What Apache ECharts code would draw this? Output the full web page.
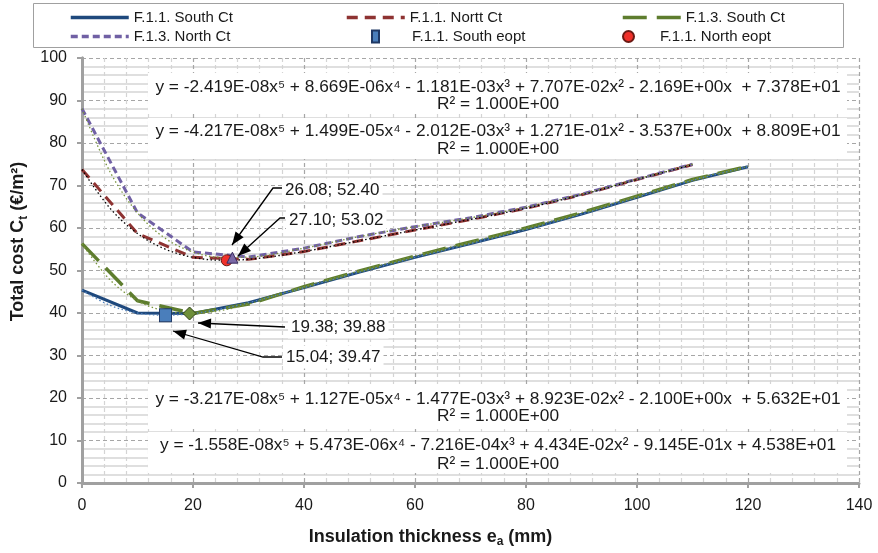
<!DOCTYPE html>
<html>
<head>
<meta charset="utf-8">
<script src="https://cdn.jsdelivr.net/npm/echarts@6/dist/echarts.min.js"></script>
<style>
html,body{margin:0;padding:0;background:#fff;}
#chart{width:878px;height:553px;}
</style>
</head>
<body>
<div id="chart"></div>
<script>
// ---- data ----
const xSouth = [0, 10, 20, 30, 40, 50, 60, 70, 80, 90, 100, 110, 120];
const southF11 = [45.38, 40.00, 39.88, 42.42, 45.98, 49.64, 53.08, 56.35, 59.66, 63.26, 67.23, 71.22, 74.42];
const southF13 = [56.32, 42.88, 39.90, 42.10, 46.20, 49.90, 53.40, 56.70, 60.00, 63.60, 67.50, 71.40, 74.50];
const xNorth = [0, 10, 20, 30, 40, 50, 60, 70, 80, 90, 100, 110];
const northF11 = [73.78, 58.70, 53.09, 52.62, 54.46, 57.00, 59.53, 62.00, 64.65, 67.82, 71.40, 74.90];
const northF13 = [88.09, 63.56, 54.36, 53.16, 55.26, 58.00, 60.32, 62.40, 64.90, 67.95, 71.50, 75.00];

// trendline (polynomial) readings: finer near the left edge
const xTrendS = [0, 5, 10, 15, 20, 25, 30, 40, 50, 60, 70, 80, 90, 100, 110, 120];
const trendSouthF11 = [45.38, 41.83, 40.00, 39.47, 39.88, 40.94, 42.42, 45.98, 49.64, 53.08, 56.35, 59.66, 63.26, 67.23, 71.22, 74.42];
const trendSouthF13 = [56.32, 47.87, 42.88, 40.46, 39.90, 40.60, 42.10, 46.20, 49.90, 53.40, 56.70, 60.00, 63.60, 67.50, 71.40, 74.50];
const xTrendN = [0, 5, 10, 15, 20, 25, 30, 40, 50, 60, 70, 80, 90, 100, 110];
const trendNorthF11 = [73.78, 64.72, 58.70, 55.02, 53.09, 52.42, 52.62, 54.46, 57.00, 59.53, 62.00, 64.65, 67.82, 71.40, 74.90];
const trendNorthF13 = [88.09, 73.34, 63.56, 57.57, 54.36, 53.11, 53.16, 55.26, 58.00, 60.32, 62.40, 64.90, 67.95, 71.50, 75.00];

// optimum points
const optSouthF11 = [15.04, 39.47];
const optNorthF11 = [26.08, 52.40];
const optNorthF13 = [27.10, 53.02];
const optSouthF13 = [19.38, 39.88];

const xTicks = { min: 0, max: 140, interval: 20 };
const yTicks = { min: 0, max: 100, interval: 10 };

const equations = [
  'y = -2.419E-08x\u2075 + 8.669E-06x\u2074 - 1.181E-03x\u00b3 + 7.707E-02x\u00b2 - 2.169E+00x  + 7.378E+01',
  'y = -4.217E-08x\u2075 + 1.499E-05x\u2074 - 2.012E-03x\u00b3 + 1.271E-01x\u00b2 - 3.537E+00x  + 8.809E+01',
  'y = -3.217E-08x\u2075 + 1.127E-05x\u2074 - 1.477E-03x\u00b3 + 8.923E-02x\u00b2 - 2.100E+00x  + 5.632E+01',
  'y = -1.558E-08x\u2075 + 5.473E-06x\u2074 - 7.216E-04x\u00b3 + 4.434E-02x\u00b2 - 9.145E-01x + 4.538E+01'
];
const r2Text = 'R\u00b2 = 1.000E+00';
const optLabels = ['26.08; 52.40', '27.10; 53.02', '19.38; 39.88', '15.04; 39.47'];

// ---- styling ----
const REG = '"Liberation Sans", Arial, sans-serif';
const TXT = '#1a1a1a';
const AX = '#a0a0a0';

const pairs = (xs, ys) => xs.map((x, i) => [x, ys[i]]);

const C_BLUE = '#1F497D', C_RED = '#8E3332', C_GREEN = '#5E7D2E', C_PURPLE = '#7060A4';

const chart = echarts.init(document.getElementById('chart'), null, { renderer: 'canvas' });

function lineSeries(name, xs, ys, color, width, dash, z) {
  return {
    name, type: 'line', data: pairs(xs, ys), showSymbol: false, symbol: 'none',
    lineStyle: { color, width, type: dash }, itemStyle: { color }, z, animation: false
  };
}
function trendSeries(name, xs, ys, color) {
  return {
    name, type: 'line', data: pairs(xs, ys), showSymbol: false, symbol: 'none', smooth: 0.35,
    lineStyle: { color, width: 1.3, type: [1.5, 2.5] }, z: 4, animation: false, silent: true
  };
}
function scatterSeries(name, pt, symbol, size, fill, border) {
  return {
    name, type: 'scatter', data: [pt], symbol, symbolSize: size,
    itemStyle: { color: fill, borderColor: border, borderWidth: 1, opacity: 1 }, z: 6, animation: false
  };
}

const legendText = { fontFamily: REG, fontSize: 15, color: TXT };
function legendAt(name, left, top, opts) {
  return Object.assign({
    data: [name], left, top, orient: 'horizontal', itemWidth: 58, itemHeight: 14, selectedMode: false,
    itemStyle: { opacity: 0 }, lineStyle: { width: 3.5 }, textStyle: legendText, padding: 0
  }, opts || {});
}

const option = {
  backgroundColor: '#fff',
  animation: false,
  grid: { left: 82, right: 19, top: 58, bottom: 65, containLabel: false },
  legend: [
    legendAt('F.1.1. South Ct', 69, 10),
    legendAt('F.1.1. Nortt Ct', 345, 10),
    legendAt('F.1.3. South Ct', 621, 10),
    legendAt('F.1.3. North Ct', 69, 29),
    legendAt('F.1.1. South eopt', 371, 29, { itemWidth: 7, itemHeight: 12, icon: 'rect', itemStyle: {},
      textStyle: Object.assign({}, legendText, { padding: [0, 0, 0, 28] }) }),
    legendAt('F.1.1. North eopt', 622, 29, { itemWidth: 11, itemHeight: 11, icon: 'circle', itemStyle: {},
      textStyle: Object.assign({}, legendText, { padding: [0, 0, 0, 21] }) })
  ],
  xAxis: [{
    type: 'value', min: xTicks.min, max: xTicks.max, interval: xTicks.interval,
    name: '{b|Insulation thickness e}{s|a}{b| (mm)}', nameLocation: 'middle', nameGap: 43,
    nameTextStyle: { padding: [0, 80, 0, 0], rich: {
      b: { fontFamily: REG, fontSize: 18, fontWeight: 'bold', color: TXT, lineHeight: 22 },
      s: { fontFamily: REG, fontSize: 12, fontWeight: 'bold', color: TXT, verticalAlign: 'bottom' } } },
    axisLine: { show: true, onZero: false, lineStyle: { color: AX, width: 3 } },
    axisTick: { show: true, length: 5, lineStyle: { color: AX, width: 2 } },
    axisLabel: { fontFamily: REG, fontSize: 16, color: TXT, margin: 15 },
    splitLine: { show: true, lineStyle: { color: '#a6a6a6', width: 1.2, type: [4, 3] } },
    minorTick: { show: false, splitNumber: 5 },
    minorSplitLine: { show: true, lineStyle: { color: '#d4d4d4', width: 1.2, type: [4, 3] } }
  }],
  yAxis: [{
    type: 'value', min: yTicks.min, max: yTicks.max, interval: yTicks.interval,
    name: '{b|Total cost C}{s|t}{b| (\u20ac/m\u00b2)}', nameLocation: 'middle', nameGap: 52, nameRotate: 90,
    nameTextStyle: { padding: [0, 0, 0, 58], rich: {
      b: { fontFamily: REG, fontSize: 18, fontWeight: 'bold', color: TXT, lineHeight: 22 },
      s: { fontFamily: REG, fontSize: 12, fontWeight: 'bold', color: TXT, verticalAlign: 'bottom' } } },
    axisLine: { show: true, onZero: false, lineStyle: { color: AX, width: 3 } },
    axisTick: { show: true, length: 5, lineStyle: { color: AX, width: 2 } },
    axisLabel: { fontFamily: REG, fontSize: 16, color: TXT, margin: 15 },
    splitLine: { show: true, lineStyle: { color: '#a6a6a6', width: 1.2, type: [4, 3] } },
    minorTick: { show: false, splitNumber: 5 },
    minorSplitLine: { show: true, lineStyle: { color: '#d4d4d4', width: 1.5, type: 'solid' } }
  }, {
    type: 'value', position: 'right', min: yTicks.min, max: yTicks.max, interval: yTicks.interval,
    axisLine: { show: true, lineStyle: { color: AX, width: 3 } },
    axisTick: { show: false }, axisLabel: { show: false }, splitLine: { show: false }
  }],
  series: [
    lineSeries('F.1.1. South Ct', xSouth, southF11, C_BLUE, 3, 'solid', 3),
    lineSeries('F.1.1. Nortt Ct', xNorth, northF11, C_RED, 3, [11, 7], 3),
    lineSeries('F.1.3. South Ct', xSouth, southF13, C_GREEN, 3.5, [24, 10], 3),
    lineSeries('F.1.3. North Ct', xNorth, northF13, C_PURPLE, 3, [7, 4], 3),
    trendSeries('trend F.1.1. South', xTrendS, trendSouthF11, '#4F81BD'),
    trendSeries('trend F.1.1. North', xTrendN, trendNorthF11, '#000000'),
    trendSeries('trend F.1.3. South', xTrendS, trendSouthF13, '#77933C'),
    trendSeries('trend F.1.3. North', xTrendN, trendNorthF13, '#77933C'),
    scatterSeries('F.1.1. South eopt', optSouthF11, 'rect', [12, 13], '#4A7EBB', '#1F3864'),
    scatterSeries('F.1.1. North eopt', optNorthF11, 'circle', 11, '#F0302A', '#6B1A14'),
    scatterSeries('F.1.3. North eopt', optNorthF13, 'triangle', 11, '#7A68A6', '#3A2D5E'),
    scatterSeries('F.1.3. South eopt', optSouthF13, 'diamond', 13, '#6E8F3A', '#2F4216')
  ]
};
chart.setOption(option);

// ---- annotations (layout only) ----
const g = [];
g.push({ type: 'rect', z: -10, shape: { x: 33.5, y: 3.5, width: 810, height: 44 },
  style: { fill: '#fff', stroke: '#a0a0a0', lineWidth: 1 } });

const eqBoxes = [{ y: 73, l1: 87, l2: 104 }, { y: 118, l1: 131, l2: 149 },
                 { y: 386, l1: 399, l2: 416 }, { y: 432, l1: 445, l2: 464 }];
eqBoxes.forEach((b, i) => {
  g.push({ type: 'rect', z: 1, shape: { x: 148, y: b.y, width: 699, height: 41 }, style: { fill: '#fff' } });
  g.push({ type: 'text', z: 2, x: 498, y: b.l1, style: { text: equations[i], fill: TXT, font: '17.3px ' + REG, textAlign: 'center', textVerticalAlign: 'middle' } });
  g.push({ type: 'text', z: 2, x: 498, y: b.l2, style: { text: r2Text, fill: TXT, font: '17.3px ' + REG, textAlign: 'center', textVerticalAlign: 'middle' } });
});

const labelPos = [[282, 190], [286, 220], [288, 327], [283, 357]];
labelPos.forEach((p, i) => {
  g.push({ type: 'text', z: 2, x: p[0], y: p[1], style: { text: optLabels[i], fill: TXT, font: '17px ' + REG,
    textAlign: 'left', textVerticalAlign: 'middle', backgroundColor: '#fff', padding: [3, 3, 3, 3] } });
});

function arrow(pts) {
  g.push({ type: 'polyline', z: 7, shape: { points: pts },
    style: { stroke: '#000', lineWidth: 1.3, fill: null } });
  const a = pts[pts.length - 2], t = pts[pts.length - 1];
  const dx = t[0] - a[0], dy = t[1] - a[1], L = Math.hypot(dx, dy);
  const ux = dx / L, uy = dy / L, len = 13, w = 5;
  const bx = t[0] - ux * len, by = t[1] - uy * len;
  g.push({ type: 'polygon', z: 7, shape: { points: [t, [bx - uy * w, by + ux * w], [bx + uy * w, by - ux * w]] },
    style: { fill: '#000' } });
}
arrow([[282, 188], [273, 188], [232, 245]]);
arrow([[285, 218], [280, 218], [238, 256]]);
arrow([[285, 327], [198, 323]]);
arrow([[282, 357], [263, 357], [173, 331]]);

chart.setOption({ graphic: g });
</script>
</body>
</html>
